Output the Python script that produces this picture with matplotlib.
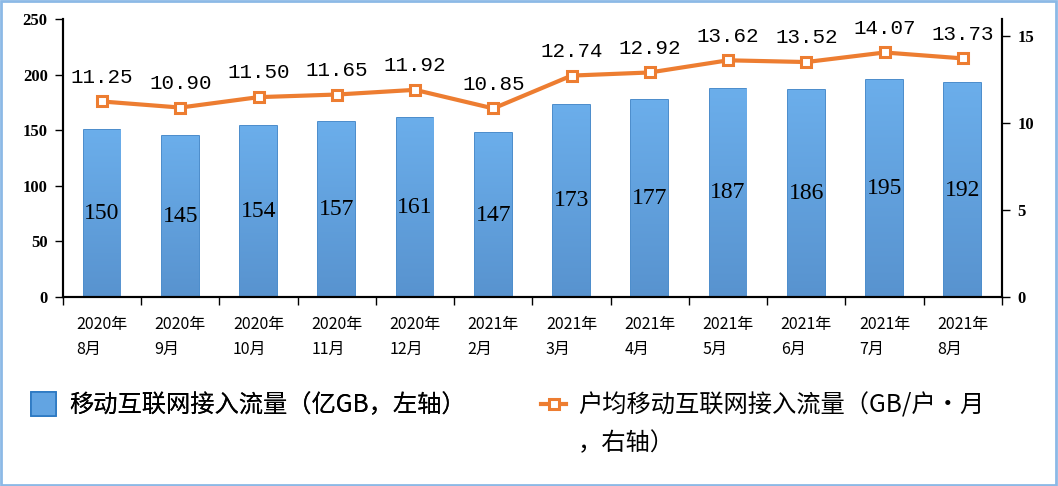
import matplotlib.pyplot as plt
import numpy as np
from matplotlib.patches import Rectangle
from matplotlib.colors import LinearSegmentedColormap

plt.rcParams['font.family'] = ['Noto Sans CJK SC', 'DejaVu Sans']

# data
months = ["2020年\n8月", "2020年\n9月", "2020年\n10月", "2020年\n11月", "2020年\n12月", "2021年\n2月",
          "2021年\n3月", "2021年\n4月", "2021年\n5月", "2021年\n6月", "2021年\n7月", "2021年\n8月"]
traffic = [150, 145, 154, 157, 161, 147, 173, 177, 187, 186, 195, 192]
per_user = [11.25, 10.90, 11.50, 11.65, 11.92, 10.85, 12.74, 12.92, 13.62, 13.52, 14.07, 13.73]

label_bar = "移动互联网接入流量（亿GB，左轴）"
label_line = "户均移动互联网接入流量（GB/户·月"
label_line_2 = "，右轴）"

fig = plt.figure(figsize=(10.58, 4.86), dpi=100)
ax = fig.add_axes([0.0595, 0.389, 0.8875, 0.572])
ax2 = ax.twinx()

x = np.arange(len(months))
bars = ax.bar(x, traffic, width=0.47, color='#62A4E2', edgecolor='#2B78C2',
              linewidth=1.2, label=label_bar, zorder=2)

# vertical gradient inside bars
cmap = LinearSegmentedColormap.from_list('g', ['#5893CF', '#6BAEEB'])
grad = np.linspace(0, 1, 100).reshape(-1, 1)
for b in bars:
    im = ax.imshow(grad, cmap=cmap, origin='lower', aspect='auto', zorder=2.5,
                   extent=[b.get_x(), b.get_x() + b.get_width(), 0, b.get_height()])
    im.set_clip_path(b)

for xi, v in zip(x, traffic):
    ax.text(xi, v / 2, str(v), ha='center', va='center', fontsize=17,
            family='Liberation Serif', zorder=4)

line, = ax2.plot(x, per_user, color='#ED7D31', linewidth=3, marker='s',
                 markersize=7, markerfacecolor='white', markeredgecolor='#ED7D31',
                 markeredgewidth=2.2, label=label_line, zorder=3)
for xi, v in zip(x, per_user):
    ax2.text(xi, v + 0.85, f"{v:.2f}", ha='center', va='bottom', fontsize=15,
             family='Liberation Mono')

ax.set_xlim(-0.5, len(months) - 0.5)
ax.set_ylim(0, 250)
ax2.set_ylim(0, 16)
ax.set_yticks(range(0, 251, 50))
ax2.set_yticks([0, 5, 10, 15])

for a in (ax, ax2):
    a.spines['top'].set_visible(False)
    for s in ('left', 'right', 'bottom'):
        a.spines[s].set_linewidth(1.5)
ax.tick_params(axis='y', length=6, width=1, pad=5)
ax2.tick_params(axis='y', length=6, width=1, pad=5)
for lab in ax.get_yticklabels() + ax2.get_yticklabels():
    lab.set_family('Liberation Serif')
    lab.set_fontweight('bold')
    lab.set_fontsize(12)

# ticks between categories, labels at centers
ax.set_xticks(np.arange(-0.5, len(months), 1))
ax.set_xticklabels([])
ax.tick_params(axis='x', which='major', length=6, width=1)
ax.set_xticks(x, minor=True)
ax.set_xticklabels(months, minor=True, fontsize=11.5, multialignment='left',
                   linespacing=1.6)
ax.tick_params(axis='x', which='minor', length=0, pad=14)

leg1 = fig.legend(handles=[bars], labels=[label_bar], loc='center left',
                  bbox_to_anchor=(0.009, 0.166), frameon=False, fontsize=17.5,
                  handlelength=1.0, handleheight=1.1, handletextpad=0.55)
leg2 = fig.legend(handles=[line], labels=[label_line], loc='center left',
                  bbox_to_anchor=(0.491, 0.166), frameon=False, fontsize=17.5,
                  handlelength=1.0, handletextpad=0.5)
fig.add_artist(leg1)

fig.canvas.draw()
bb = leg2.get_texts()[0].get_window_extent().transformed(fig.transFigure.inverted())
fig.text(bb.x0, bb.y0 - 0.025, label_line_2, fontsize=17.5, va='top', ha='left')

fig.patches.append(Rectangle((0.001, 0.002), 0.997, 0.995, transform=fig.transFigure,
                             fill=False, edgecolor='#8CB9E6', linewidth=2))

fig.savefig('out.png', dpi=100)
